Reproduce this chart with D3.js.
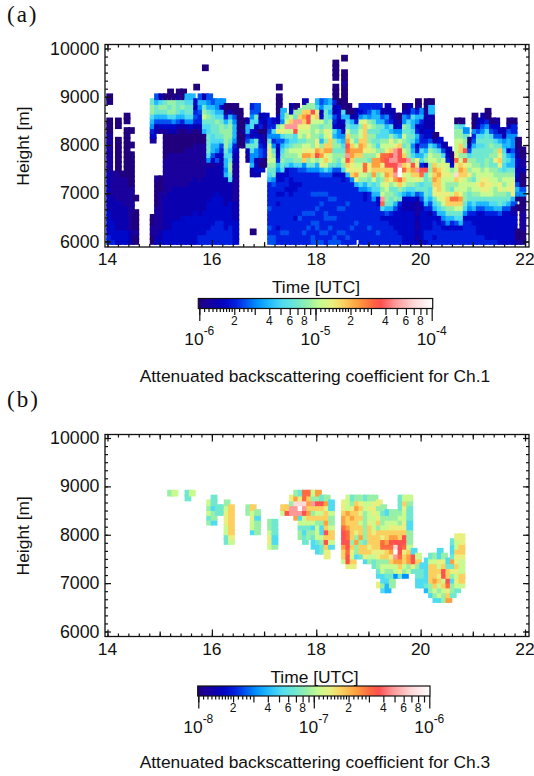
<!DOCTYPE html>
<html>
<head>
<meta charset="utf-8">
<script src="https://cdn.jsdelivr.net/npm/d3@7"></script>
<style>
    html, body {margin: 0; padding: 0; background: #fff;}
    svg {display: block;}
    text {font-family: "Liberation Sans", Arial, sans-serif; fill: #111;}
    .panelLabel {font-family: "Liberation Serif", serif; font-size: 23px; letter-spacing: 2px;}
    .domain {display: none;}
    .tick line {stroke: #111; stroke-width: 1.2;}
</style>
</head>
<body>
<script>
//colour levels used by the two height/time grids, position along the colour bar (0-1)
var levelKeys = "abcdefghijklmnopqrst";
var levelPos = [0, .04, .08, .12, .16, .2, .25, .3, .36, .42, .47, .52, .57, .62, .68, .74, .78, .84, .92, 1];

//colour bar stops
var barPos = [0, .04, .08, .12, .16, .2, .25, .3, .36, .42, .47, .52, .57, .62, .68, .74, .78, .84, .92, 1];
var barColors = ["#20007c", "#1a009c", "#0a00b0", "#0008c8", "#0020e0", "#0050f0", "#0090ff", "#20b8ff", "#50dcf0", "#70e8d0",
    "#98f0a8", "#c8fa90", "#e8f080", "#fbd060", "#ffa040", "#ff6a40", "#ff5050", "#ff9898", "#ffd8d8", "#ffffff"];

//time and height ticks
var hourLabels = [14, 16, 18, 20, 22];
var heightLabels = [6000, 7000, 8000, 9000, 10000];

//Ch.1 grid, one string per 5 minute column, read from the top row down. "." is no data
var ch1TopRow = [30,14,25,14,26,23,9,0,0,0,
    29,30,30,30,31,30,31,31,30,30,
    32,30,36,30,29,29,29,28,28,28,
    27,25,25,28,28,26,26,25,25,32,
    27,26,28,28,27,29,28,28,29,29,
    29,29,37,29,38,28,27,27,28,28,
    28,28,28,27,28,27,26,26,28,28,
    27,29,27,29,29,22,21,20,19,18,
    25,25,23,21,26,25,26,27,25,25,
    23,23,25,25,21,19];
var ch1Levels = [
    "aa...aaabbbbbbbbccccccccdddddee",
    "bbbbbcccccdddde",
    "aa..aaaaaaabbbbbbccccccddd",
    "abbbbbccccccddd",
    "aa.aaaaaaaaaabbbbbbcccccddd",
    "a..a.aaaaaaabbbbbbbbbccc",
    "a..aaaabaa",
    "", "", "",
    "jkkihgedb...............aabbaa",
    "fhjjhfcc.........baaaaabbbbbbcc",
    "cikjhfdb.........aaabbbbbbbbccd",
    "ajkjhfdbaaaaabbbbbbbbcccccccddd",
    "aakjkifdcaaaabbbbbbbbccccccccddd",
    "akkkigdcaaaabbbbbbbcccccccddddd",
    "abjjjhfcbaaaabbbbbbbcccccccddddd",
    "aajkihecaaaaabbbbbbbccccccdddddd",
    "hijjigcbaaabbbbbbbbccccccdddddd",
    "hijjigdbaaabbbbbbbcccccccdddddd",
    "a..dcefecaaabbbbbbbcccccccddddddd",
    "fhgfeecbaabbbbbbbbcccccccddddee",
    "a.....chjkljihaabbbbbbbcccccccdddddee",
    "fghjkjiijjjjigbcccccccddddddeee",
    "fhijjjjiihhfdbccccccddddddeeee",
    "gghikjjjihgdfccccccddddddeeeee",
    "gdhijkkjifedccccccccdddddeeeee",
    "aaehjkkkkjihhghccccccdddddeee",
    "achjkkkjihijkkjiccccdddddeeee",
    "aafghhhgedccbbbbbbbbccccddddd",
    "aaaaaaaa",
    "aabaaa",
    "chhefjcbb",
    "efgiidchjigghcc...........a",
    "ffjiccdjjggcddc",
    "cdeacdeffbad",
    "dcbabbdeeaa",
    "eefgjlmmlkjiheeeeefeeefeff",
    "deigegjklkjjgfeeeeeeeeeeff",
    "a.aaaacckmgfdcdehgddeededeeeedeee",
    "hhglmifhijkjiddeedeeeeeeefee",
    "klrljhikkjiddeedeeeeeeeefee",
    "cdlnrljijlkjheeddddeeeeeeeeee",
    "akjrrqiiklkkieeeddeeeeedeeeee",
    "knrmlljkllkifeedeeeeeefeeeee",
    "cknonmlkjlmongfeeeeeeeefeeefee",
    "knqqmlmklmokjgeeeeeeeefeefeee",
    "kqmlkkkkkmnljgeeeefeeefefeeff",
    "himnlklkmmoqkhgeeeefeefeeffeef",
    "fgcdljkjhknolmhfeeefefeeeeefef",
    "gijjjkmlknomnlifeeefeeeffeefee",
    "hihikklmnnolljhfeeeefeeefefeef",
    "aaaa.aaaeccfedihkkjkkjfdeeeefeeefeeeff",
    "adddccggikjkjifdeeeeeefeeeefef",
    "a..aabaaaaaihdcdghijklkiddeeeeefeeeefee",
    "aahijlnoqprqnmheeeeefeeeeeefe",
    "achijklnoonmmngeeeeeeeeefeee",
    "cceijkjlonklmomheeeeeeefeee",
    "edglkllnoonklmlkigeeeeeeeeeee",
    "eehmnnnnnmkkpplkhgddeeeeeeeee",
    "efgkljkklmkjmmkjjheeeeeeefeee",
    "ehhjkjkjklkoonoliihgeeeeeeeee",
    "eghhjjijikmoonkjjihddeeeeefee",
    "cfhjiiklkppmnlklklrpiedeeeee",
    "ccgfhiiklmpqqnonmlkkjhfdeeeee",
    "cdeihkmlnqrqnnmkjkjjheddeeee",
    "bccgikmrrrqqroljjkhfddddeee",
    "abdghlnqqqrttpnkijeddddddee",
    "adggkjlkjlnqnpmnljhdccddddddd",
    "ccfijjjjkkkrmnllkigdccddddddd",
    "fihhijighikqonlkihdccddddddd",
    "abehgdehgdehmmrnmjjfcbbbcbbcbc",
    "ghedceefihieqplijgfdcddddddd",
    "aabcccddefhjkcqjjjjjiheddddeed",
    "ahhcccddfikllkklkjiihfecdddeee",
    "achjklnononmmjihedeeede",
    "dfikklnonnnmljihddeeee",
    "cfilmmmlllmmljhgedeee",
    "cdellmlkkmnnkjhgdeee",
    "abdkllkjlpnkjhedeee",
    "ajkklllmpmlsnklnpnljifdeee",
    "aikklnnklnonmllmonljihdeee",
    "gjkkqkpmnnlllkkjigdeeeee",
    "adfiklkmklkjjhgedeeeee",
    "aaagefhjjkklkjllkjiheddeeee",
    "cdfijijjjklllmlkjhfdddddee",
    "cdfgijijjjjklmnmljhfdddddee",
    "aaegijjjjjkkllmmmljhgeddddde",
    "adfijkjkjjkllmlljigeddddde",
    "bdefijkkmjkkllkkjiheddddde",
    "cfhjnmnmjkkmmkjjhfdddddd",
    "ccghijjiiklklkjifddddddd",
    "acfghhdhihjkllmjjhfddddddd",
    "aeegggfghhjklmmmhfbcdddddd",
    "aabcddcdcfhga.a....aab",
    "aabbcaaafgaaabbbbaab"
];

//Ch.3 grid, same layout
var ch3TopRow = [0,0,0,0,0,0,0,0,0,0,
    0,0,0,0,28,28,0,0,28,28,
    0,0,0,26,27,25,25,26,25,0,
    0,0,25,25,24,0,0,22,22,0,
    25,25,27,28,28,28,28,28,28,27,
    27,26,0,0,26,27,27,27,27,27,
    27,27,26,25,24,24,24,27,27,27,
    16,15,13,14,15,15,16,15,14,18,
    19,19,0,0,0,0,0,0,0,0,
    0,0,0,0,0,0];
var ch3Levels = [
    "", "", "", "", "", "", "", "", "", "",
    "", "", "", "", "k", "l", "", "", "jj", "l",
    "", "", "", "lkljk", "jjikki", "jj", "jj", "klmmmlljj", "nnnnnnml", "",
    "", "", "kk", "nlmlli", "kikkk", "", "", "kklmml", "jjjiik", "",
    "nl", "nq", "mkrr", "kosrro", "jmstriljkk", "ppsrqlljijj", "pnononljkk", "lkrnknlikjii", "okqnlnkllljii", "jqnlnkiilkjj",
    "komnnonqnqnmm", "iilkklnnli", "", "", "mmnoopqqqonnl", "lllonnoppqqpqqm", "jkmnonnnnknmlnm", "knonnnnmkokki", "kmnmnlnnoknnj", "jllkkkkkkjnnmi",
    "klmllmnnnnmnlk", "kmmmlllmnnnmljj", "mklmnknnnnmmkkji.m", "kjkklnmppmnklliiki", "ikllnnopnnklkjihh", "kklmnoqpomnlkjkk", "kklmnoqstrollg", "jjjklkmnnqqqponmj", "lnmllmmnqqpmnnlkg", "lkjjjiikkklnookl",
    "iqqmj", "lnkjjii", "ijjii", "iiiiijh", "jlnnnnkki", "klnnnonlki", "iimlnmnlkli", "kmnqqlnlkk", "ijnnqpmno", "jiijojmkikkj",
    "mllnmmnmlmlj", "mmnnmlllnnl", "", "", "", "", "", "", "", "",
    "", "", "", "", "", ""
];

//colour bar ticks
var barInts = [1, 2, 3, 4, 5, 6, 7, 8, 9];
var barFine = [1.1, 1.2, 1.3, 1.4, 1.5, 1.6, 1.7, 1.8, 1.9, 2.2, 2.4, 2.6, 2.8];
var barLabelled = [2, 4, 6, 8];

//wrap everything in a self-executing anonymous function to move to local scope
(function(){

    var svg = d3.select("body").append("svg")
        .attr("width", 534)
        .attr("height", 776);

    //shared colormap
    var colorMap = d3.scaleLinear().domain(barPos).range(barColors);

    var gradient = svg.append("defs").append("linearGradient").attr("id", "barFill");
    gradient.selectAll("stop")
        .data(barPos)
        .enter()
        .append("stop")
        .attr("offset", function(d){ return d * 100 + "%"; })
        .attr("stop-color", function(d, i){ return barColors[i]; });

    var xScale = d3.scaleLinear().domain([14, 22]).range([107.5, 525]);

    drawPanel({
        label: "(a)", labelY: 22,
        frameTop: 44.5, frameBottom: 247, y6000: 241.5, y10000: 48.5,
        rowStart: 6000,
        tops: ch1TopRow, levels: ch1Levels,
        lowExp: -6, midX: 316, midY: 293.3, barTop: 298.5, barBottom: 308.5,
        barLeft: 198.3, barRight: 432.7, decadeLeft: 199.3, decadeRight: 431.7,
        captionY: 382, caption: "Attenuated backscattering coefficient for Ch.1"
    });

    drawPanel({
        label: "(b)", labelY: 407,
        frameTop: 434.5, frameBottom: 636.5, y6000: 631.5, y10000: 438,
        rowStart: 6060,
        tops: ch3TopRow, levels: ch3Levels,
        lowExp: -8, midX: 314.5, midY: 682.7, barTop: 686, barBottom: 696,
        barLeft: 197.7, barRight: 430, decadeLeft: 198.3, decadeRight: 429.3,
        captionY: 768.3, caption: "Attenuated backscattering coefficient for Ch.3"
    });

    function drawPanel(p){
        var yScale = d3.scaleLinear().domain([6000, 10000]).range([p.y6000, p.y10000]);
        var logScale = d3.scaleLog().domain([Math.pow(10, p.lowExp), Math.pow(10, p.lowExp + 2)]).range([0, 1]);

        //turn the column strings into cells, lower rows first so upper rows paint over them
        var cells = [];
        p.levels.forEach(function(col, i){
            for (var k = col.length - 1; k >= 0; k--){
                if (col[k] == ".") continue;
                var pos = levelPos[levelKeys.indexOf(col[k])];
                cells.push({
                    time: 14 + (i + 0.5) / 12,
                    height: p.rowStart + (p.tops[i] - k) * 100,
                    value: Math.pow(10, p.lowExp + 2 * pos)
                });
            }
        });

        svg.append("g")
            .selectAll("rect")
            .data(cells)
            .enter()
            .append("rect")
            .attr("x", function(d){ return xScale(d.time) - 3.4; })
            .attr("y", function(d){ return yScale(d.height) - 3.35; })
            .attr("width", 6.8)
            .attr("height", 6.7)
            .attr("fill", function(d){ return colorMap(logScale(d.value)); });

        //ticks, mirrored on all four sides
        var minorHours = d3.range(0, 41).map(function(d){ return 14 + d * 0.2; });
        var oddHours = [15, 17, 19, 21];
        var minorHeights = d3.range(0, 25).map(function(d){ return 6000 + d * 1000 / 6; });

        addAxis(d3.axisBottom(xScale).tickValues(minorHours).tickFormat("").tickSize(-3), p.frameBottom, true);
        addAxis(d3.axisBottom(xScale).tickValues(oddHours).tickFormat("").tickSize(-5), p.frameBottom, true);
        addAxis(d3.axisBottom(xScale).tickValues(hourLabels).tickFormat("").tickSize(-7), p.frameBottom, true);
        addAxis(d3.axisTop(xScale).tickValues(minorHours).tickFormat("").tickSize(-3), p.frameTop, true);
        addAxis(d3.axisTop(xScale).tickValues(oddHours).tickFormat("").tickSize(-5), p.frameTop, true);
        addAxis(d3.axisTop(xScale).tickValues(hourLabels).tickFormat("").tickSize(-7), p.frameTop, true);
        addAxis(d3.axisLeft(yScale).tickValues(minorHeights).tickFormat("").tickSize(-3), 105, false);
        addAxis(d3.axisLeft(yScale).tickValues(heightLabels).tickFormat("").tickSize(-6), 105, false);
        addAxis(d3.axisRight(yScale).tickValues(minorHeights).tickFormat("").tickSize(-3), 529, false);
        addAxis(d3.axisRight(yScale).tickValues(heightLabels).tickFormat("").tickSize(-6), 529, false);

        function addAxis(axis, offset, horizontal){
            svg.append("g")
                .attr("transform", horizontal ? "translate(0," + offset + ")" : "translate(" + offset + ",0)")
                .call(axis);
        }

        //frame
        svg.append("rect")
            .attr("x", 105)
            .attr("y", p.frameTop)
            .attr("width", 424)
            .attr("height", p.frameBottom - p.frameTop)
            .attr("fill", "none")
            .attr("stroke", "#111")
            .attr("stroke-width", 1.3);

        //tick labels
        svg.append("g")
            .selectAll("text")
            .data(hourLabels)
            .enter()
            .append("text")
            .attr("x", function(d){ return xScale(d); })
            .attr("y", p.frameBottom + 18)
            .attr("text-anchor", "middle")
            .style("font-size", "17.4px")
            .text(function(d){ return d; });

        svg.append("g")
            .selectAll("text")
            .data(heightLabels)
            .enter()
            .append("text")
            .attr("x", 99.5)
            .attr("y", function(d){ return yScale(d) + 6; })
            .attr("text-anchor", "end")
            .style("font-size", "17.8px")
            .text(function(d){ return d; });

        //axis titles
        svg.append("text")
            .attr("transform", "translate(28.5," + ((p.y6000 + p.y10000) / 2 + 1) + ")rotate(-90)")
            .attr("text-anchor", "middle")
            .style("font-size", "17.4px")
            .text("Height [m]");

        svg.append("text")
            .attr("x", p.midX)
            .attr("y", p.midY)
            .attr("text-anchor", "middle")
            .style("font-size", "17.4px")
            .text("Time [UTC]");

        svg.append("text")
            .attr("class", "panelLabel")
            .attr("x", 7)
            .attr("y", p.labelY)
            .text(p.label);

        //colour bar
        var barScale = d3.scaleLog().domain([1, 100]).range([p.decadeLeft, p.decadeRight]);
        var barValues = [];
        var barFineValues = [];
        var decadeValues = [1, 10, 100];
        [1, 10].forEach(function(m){
            barInts.forEach(function(d){ barValues.push(d * m); });
            barFine.forEach(function(d){ barFineValues.push(d * m); });
        });

        addAxis(d3.axisBottom(barScale).tickValues(barFineValues).tickFormat("").tickSize(3.5), p.barBottom, true);
        addAxis(d3.axisBottom(barScale).tickValues(barValues).tickFormat("").tickSize(6.5), p.barBottom, true);
        addAxis(d3.axisBottom(barScale).tickValues(decadeValues).tickFormat("").tickSize(12.5), p.barBottom, true);

        svg.append("rect")
            .attr("x", p.barLeft)
            .attr("y", p.barTop)
            .attr("width", p.barRight - p.barLeft)
            .attr("height", p.barBottom - p.barTop)
            .attr("fill", "url(#barFill)")
            .attr("stroke", "#111")
            .attr("stroke-width", 1.2);

        var smallLabels = [];
        [1, 10].forEach(function(m){
            barLabelled.forEach(function(d){ smallLabels.push(d * m); });
        });

        svg.append("g")
            .selectAll("text")
            .data(smallLabels)
            .enter()
            .append("text")
            .attr("x", function(d){ return barScale(d); })
            .attr("y", p.barBottom + 16.3)
            .attr("text-anchor", "middle")
            .style("font-size", "12px")
            .text(function(d){ return String(d).charAt(0); });

        var decadeLabels = svg.append("g")
            .selectAll("text")
            .data(decadeValues)
            .enter()
            .append("text")
            .attr("x", function(d){ return barScale(d); })
            .attr("y", p.barBottom + 36.5)
            .attr("text-anchor", "middle")
            .style("font-size", "17.4px");

        decadeLabels.append("tspan").text("10");
        decadeLabels.append("tspan")
            .attr("dy", -10)
            .style("font-size", "12px")
            .text(function(d, i){ return p.lowExp + i; });

        svg.append("text")
            .attr("x", 315)
            .attr("y", p.captionY)
            .attr("text-anchor", "middle")
            .style("font-size", "17.4px")
            .text(p.caption);
    }
})();
</script>
</body>
</html>
